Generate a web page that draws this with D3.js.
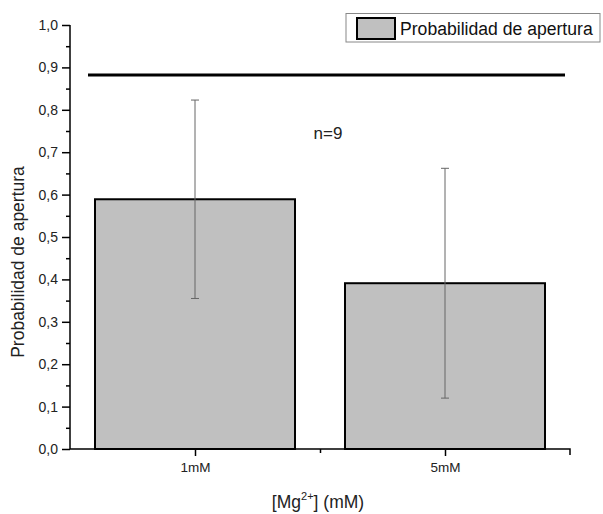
<!DOCTYPE html>
<html><head><meta charset="utf-8">
<script src="https://cdn.jsdelivr.net/npm/d3@7"></script>
<style>body{margin:0;background:#fff}svg{display:block;font-family:"Liberation Sans",Arial,sans-serif}</style>
</head><body>
<svg id="c" width="603" height="514"></svg>
<script>
const categories = ["1mM", "5mM"];
const values = [0.589, 0.391];
const errors = [0.234, 0.271];
const refLine = 0.882;
const yTicks = [0,0.1,0.2,0.3,0.4,0.5,0.6,0.7,0.8,0.9,1.0];
const nLabel = "n=9";
const seriesName = "Probabilidad de apertura";

const svg = d3.select("#c");
const L = 70, R = 570, T = 25, B = 449;
const x = d3.scaleLinear().domain([0.5, 2.5]).range([L, R]);
const y = d3.scaleLinear().domain([0, 1]).range([B, T]);
const barW = x(1.4) - x(0.6);

// bars
svg.append("g").selectAll("rect").data(values).join("rect")
  .attr("x", (d,i) => x(i+1) - barW/2).attr("y", d => y(d))
  .attr("width", barW).attr("height", d => B - y(d))
  .attr("fill", "#c0c0c0").attr("stroke", "#000").attr("stroke-width", 2);

// error bars
const eg = svg.append("g").attr("stroke", "#666").attr("stroke-width", 1);
values.forEach((v,i) => {
  const cx = x(i+1);
  eg.append("line").attr("x1", cx).attr("x2", cx).attr("y1", y(v+errors[i])).attr("y2", y(v-errors[i]));
  [v+errors[i], v-errors[i]].forEach(e => eg.append("line").attr("x1", cx-4).attr("x2", cx+4).attr("y1", y(e)).attr("y2", y(e)));
});

// reference line
svg.append("line").attr("x1", 88).attr("x2", 565).attr("y1", y(refLine)).attr("y2", y(refLine))
  .attr("stroke", "#000").attr("stroke-width", 3);

// y axis
const yAxis = d3.axisLeft(y).tickValues(yTicks).tickSize(8).tickPadding(4)
  .tickFormat(d => d3.format(".1f")(d).replace(".", ","));
const ya = svg.append("g").attr("transform", `translate(${L},0)`).call(yAxis);
ya.selectAll("text").attr("font-size", 14).attr("fill", "#222").attr("font-family", "Liberation Sans, Arial, sans-serif");
ya.select(".domain").attr("stroke-width", 1.5).attr("d", `M0,${B}V${T}`);
ya.selectAll(".tick line").attr("stroke-width", 1.5);
const yMinor = d3.axisLeft(y).tickValues(d3.range(0.05, 1, 0.1)).tickSize(4).tickFormat("");
const ym = svg.append("g").attr("transform", `translate(${L},0)`).call(yMinor);
ym.select(".domain").remove();
ym.selectAll(".tick line").attr("stroke-width", 1.5);

// x axis
const xAxis = d3.axisBottom(x).tickValues([1,2]).tickSize(7).tickPadding(6).tickFormat((d,i) => categories[i]);
const xa = svg.append("g").attr("transform", `translate(0,${B})`).call(xAxis);
xa.selectAll("text").attr("font-size", 13.5).attr("fill", "#222").attr("font-family", "Liberation Sans, Arial, sans-serif");
xa.select(".domain").attr("stroke-width", 1.5).attr("d", `M${L},0H${R}V6`);
xa.selectAll(".tick line").attr("stroke-width", 1.5);
const xMinor = d3.axisBottom(x).tickValues([1.5]).tickSize(4).tickFormat("");
const xm = svg.append("g").attr("transform", `translate(0,${B})`).call(xMinor);
xm.select(".domain").remove();
xm.selectAll(".tick line").attr("stroke-width", 1.5);

// axis titles
svg.append("text").attr("transform", `translate(24,262) rotate(-90)`)
  .attr("text-anchor", "middle").attr("font-size", 17.5).attr("fill", "#222").text("Probabilidad de apertura");
const xt = svg.append("text").attr("x", 318).attr("y", 508).attr("text-anchor", "middle").attr("font-size", 17.5).attr("fill", "#222");
xt.append("tspan").text("[Mg");
xt.append("tspan").attr("dy", -8).attr("font-size", 11).text("2+");
xt.append("tspan").attr("dy", 8).text("] (mM)");

// n label
svg.append("text").attr("x", 328).attr("y", 139).attr("text-anchor", "middle").attr("font-size", 17).attr("fill", "#222").text(nLabel);

// legend
const lg = svg.append("g");
lg.append("rect").attr("x", 346).attr("y", 13.5).attr("width", 254).attr("height", 28.5)
  .attr("fill", "#fff").attr("stroke", "#888").attr("stroke-width", 1);
lg.append("rect").attr("x", 357).attr("y", 18).attr("width", 38).attr("height", 21)
  .attr("fill", "#c0c0c0").attr("stroke", "#000").attr("stroke-width", 2);
lg.append("text").attr("x", 400).attr("y", 35).attr("font-size", 17.6).attr("fill", "#111").text(seriesName);
</script>
</body></html>
